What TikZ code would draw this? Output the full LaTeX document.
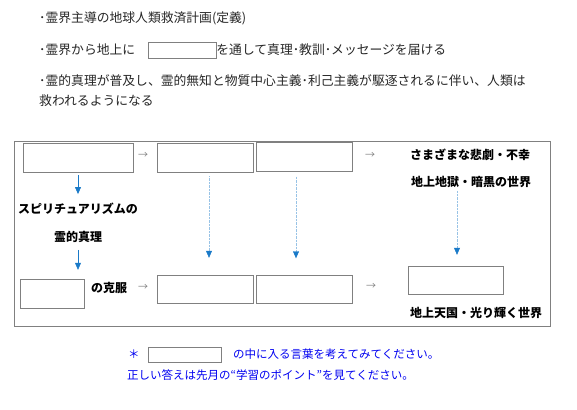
\documentclass[tikz,border=0pt]{standalone}
\usepackage{fontspec}
\newfontfamily\jp{Noto Sans CJK JP}
\usetikzlibrary{arrows.meta}
\definecolor{framegray}{HTML}{808080}
\definecolor{arrowblue}{HTML}{1A7AC8}
\definecolor{noteblue}{HTML}{0000F0}
\tikzset{
  toptext/.style={anchor=west,inner sep=0pt,font=\jp\fontsize{12.8}{14}\selectfont,text=black!85},
  blank/.style={draw=framegray,inner sep=0pt,minimum width=#1},
  lbl/.style={inner sep=0pt,font=\jp\bfseries\fontsize{12}{13}\selectfont},
  arr/.style={inner sep=0pt,font=\jp\fontsize{10}{12}\selectfont,text=framegray},
  note/.style={anchor=west,inner sep=0pt,font=\jp\fontsize{11.5}{13}\selectfont,text=noteblue},
  down/.style={draw=arrowblue,-{Triangle[width=6pt,length=7pt]}},
  dotdown/.style={draw=arrowblue!45,densely dotted,-{Triangle[width=6pt,length=7pt,color=arrowblue]}}
}
\begin{document}
\begin{tikzpicture}[x=1pt,y=-1pt]
  \useasboundingbox (0,0) rectangle (577,409);
  % Kopftext
  \node[toptext] (t1) at (39,18) {･霊界主導の地球人類救済計画(定義)};
  \node[toptext] (t2) at (39,50) {･霊界から地上に};
  \node[blank=68pt,minimum height=16pt] (tb) at (182,50) {};
  \node[toptext] (t2b) at (tb.east) {を通して真理･教訓･メッセージを届ける};
  \node[toptext] (t3) at (39,81) {･霊的真理が普及し、霊的無知と物質中心主義･利己主義が駆逐されるに伴い、人類は};
  \node[toptext] (t4) at (39,101) {救われるようになる};
  % Rahmen
  \draw[framegray] (14,141) rectangle (550,326);
  % obere Reihe
  \node[blank=110pt,minimum height=29pt] (a) at (78,157.5) {};
  \node[arr] (r1) at (143,155) {→};
  \node[blank=96pt,minimum height=29pt] (b) at (205,157.5) {};
  \node[blank=96pt,minimum height=29pt] (c) at (304,157) {};
  \node[arr] (r2) at (370,155) {→};
  \node[lbl] (ungl) at (470,155) {さまざまな悲劇・不幸};
  \node[lbl] (hoelle) at (471,182) {地上地獄・暗黒の世界};
  % linke Spalte
  \node[lbl] (spir) at (78,209) {スピリチュアリズムの};
  \node[lbl] (wahr) at (78,237) {霊的真理};
  % untere Reihe
  \node[blank=64pt,minimum height=29pt] (l) at (52,293.5) {};
  \node[lbl,anchor=west] (ueber) at (91,288) {の克服};
  \node[arr] (r3) at (143,287) {→};
  \node[blank=96pt,minimum height=28pt] (bb) at (205,289) {};
  \node[blank=96pt,minimum height=28pt] (cc) at (304,289.5) {};
  \node[arr] (r4) at (371,286) {→};
  \node[blank=95pt,minimum height=28pt] (e) at (455.5,280) {};
  \node[lbl] (himmel) at (476,313) {地上天国・光り輝く世界};
  % Pfeile
  \draw[down] ([yshift=-3pt]a.south) -- ([yshift=9pt]spir.north);
  \draw[down] ([yshift=-7pt]wahr.south) -- ([yshift=9pt]l.north -| wahr.south);
  \draw[dotdown] ([xshift=4pt,yshift=-4pt]b.south) -- ([xshift=4pt,yshift=17pt]bb.north);
  \draw[dotdown] ([xshift=-8pt,yshift=-5pt]c.south) -- ([xshift=-8pt,yshift=17pt]cc.north);
  \draw[dotdown] ([xshift=-14pt,yshift=-3pt]hoelle.south) -- ([xshift=1.5pt,yshift=11pt]e.north);
  % Hinweis
  \node[note] (star) at (128,354) {＊};
  \node[blank=73pt,minimum height=15pt] (nb) at (184.5,354.5) {};
  \node[note] (n1) at (233,354) {の中に入る言葉を考えてみてください。};
  \node[note] (n2) at (127,375) {正しい答えは先月の“学習のポイント”を見てください。};
\end{tikzpicture}
\end{document}
